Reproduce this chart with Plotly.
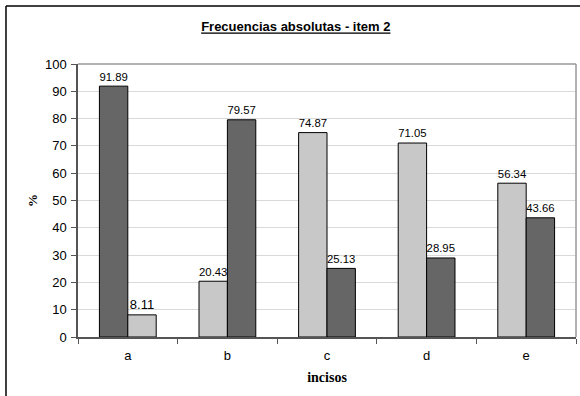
import plotly.graph_objects as go

categories = ["a", "b", "c", "d", "e"]
serie1 = [91.89, 20.43, 74.87, 71.05, 56.34]
serie2 = [8.11, 79.57, 25.13, 28.95, 43.66]
y_ticks = [0, 10, 20, 30, 40, 50, 60, 70, 80, 90, 100]

DARK = "#666666"
LIGHT = "#C8C8C8"
colors1 = [DARK, LIGHT, LIGHT, LIGHT, LIGHT]
colors2 = [LIGHT, DARK, DARK, DARK, DARK]

SANS = "Liberation Sans"
SERIF = "Liberation Serif"

fig = go.Figure()
for vals, cols in [(serie1, colors1), (serie2, colors2)]:
    fig.add_trace(go.Bar(
        x=categories, y=vals,
        marker=dict(color=cols, line=dict(color="#000000", width=1)),
        text=[f"{v:.2f}" for v in vals], textposition="outside",
        textfont=dict(family=SANS, size=13, color="#000000"),
        cliponaxis=False, showlegend=False,
    ))

fig.update_layout(
    width=580, height=396,
    margin=dict(l=78, r=4, t=64, b=59),
    paper_bgcolor="white", plot_bgcolor="white",
    barmode="group", bargap=0.43, bargroupgap=0,
    font=dict(family=SANS, size=13, color="#000000"),
    title=dict(text="<b><u>Frecuencias absolutas - item 2</u></b>",
               x=0.51, xanchor="center", y=0.932, yanchor="middle",
               font=dict(family=SANS, size=13, color="#000000")),
    xaxis=dict(
        type="category", tickson="boundaries", ticks="outside", ticklen=5,
        tickcolor="#555555", showline=True, linecolor="#555555", linewidth=1.5,
        showgrid=False, tickfont=dict(size=13), ticklabelstandoff=6,
        title=dict(text="<b>incisos</b>", standoff=10,
                   font=dict(family=SERIF, size=14)),
    ),
    yaxis=dict(
        range=[0, 100], tickvals=y_ticks, ticks="outside", ticklen=5,
        tickcolor="#555555", showline=True, linecolor="#555555", linewidth=1.5,
        showgrid=True, gridcolor="#D9D9D9", gridwidth=1, zeroline=False,
        tickfont=dict(size=13), ticklabelstandoff=2,
        title=dict(text="<b>%</b>", standoff=4,
                   font=dict(family=SERIF, size=13)),
    ),
    shapes=[
        dict(type="line", xref="paper", yref="paper", x0=0, x1=1, y0=1, y1=1,
             line=dict(color="#999999", width=1.5)),
        dict(type="line", xref="paper", yref="paper", x0=1, x1=1, y0=0, y1=1,
             line=dict(color="#999999", width=1.5)),
        dict(type="line", xref="paper", yref="paper", x0=-0.1446, x1=-0.1446,
             y0=-0.3, y1=1.2125, line=dict(color="#000000", width=1.5)),
        dict(type="line", xref="paper", yref="paper", x0=-0.1446, x1=1.05,
             y0=1.2125, y1=1.2125, line=dict(color="#000000", width=1.5)),
    ],
)

fig.write_html("out.html", config={"displayModeBar": False},
               post_script="document.body.style.margin='0';document.body.style.overflow='hidden';")
